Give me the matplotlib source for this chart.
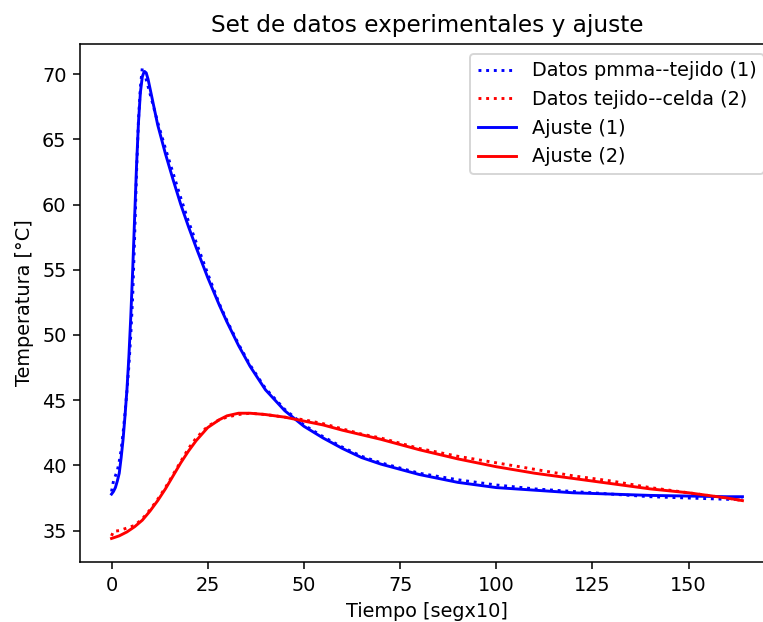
import matplotlib
matplotlib.use("Agg")
import matplotlib.pyplot as plt

# Experimental data 1 (pmma--tejido)
t_data1 = [0, 0.5, 1, 1.5, 2, 2.5, 3, 3.5, 4, 4.5, 5, 5.5, 6, 6.5, 7, 7.5, 8, 8.5, 9, 10, 11, 12, 14, 16, 18,
           20, 22, 25, 28, 30, 33, 36, 40, 45, 50, 55, 60, 65, 70, 75, 80, 90, 100, 110, 120, 130, 140, 150,
           160, 164]
T_data1 = [38.0, 38.8, 39.2, 39.6, 40.3, 41.2, 42.5, 44.0, 45.7, 47.6, 50.0, 53.0, 57.5, 62.5, 66.5, 69.0, 70.5,
           70.2, 69.6, 68.5, 67.4, 66.3, 64.3, 62.4, 60.5, 58.7, 57.1, 54.7, 52.4, 51.1, 49.3, 47.7, 45.9, 44.3,
           43.1, 42.2, 41.4, 40.7, 40.2, 39.8, 39.4, 38.9, 38.5, 38.2, 38.0, 37.8, 37.6, 37.5, 37.4, 37.4]

# Experimental data 2 (tejido--celda)
t_data2 = [0, 0.5, 2, 4, 6, 8, 10, 12, 14, 16, 18, 20, 22, 25, 28, 30, 33, 36, 40, 45, 50, 55, 60, 65, 70, 75,
           80, 90, 100, 110, 120, 130, 140, 150, 160, 164]
T_data2 = [34.6, 34.95, 35.0, 35.2, 35.4, 35.9, 36.6, 37.4, 38.3, 39.3, 40.3, 41.3, 42.1, 43.0, 43.5, 43.7,
           43.9, 44.0, 43.9, 43.7, 43.5, 43.2, 42.8, 42.4, 42.1, 41.7, 41.3, 40.7, 40.2, 39.7, 39.2, 38.8,
           38.3, 37.9, 37.5, 37.3]

# Fit 1
t_fit1 = [0, 0.5, 1, 1.5, 2, 2.5, 3, 3.5, 4, 4.5, 5, 5.5, 6, 6.5, 7, 7.5, 8, 8.5, 9, 9.5, 10, 11, 12, 14, 16,
          18, 20, 22, 25, 28, 30, 33, 36, 40, 45, 50, 55, 60, 65, 70, 75, 80, 90, 100, 110, 120, 130, 140,
          150, 160, 164]
T_fit1 = [37.8, 38.0, 38.3, 38.8, 39.4, 40.6, 42.0, 43.8, 45.8, 48.3, 51.4, 55.0, 59.0, 63.0, 66.3, 68.6, 69.8,
          70.2, 70.1, 69.6, 68.9, 67.5, 66.1, 63.9, 61.9, 60.0, 58.3, 56.7, 54.4, 52.3, 51.0, 49.2, 47.6, 45.8,
          44.2, 43.0, 42.1, 41.3, 40.6, 40.1, 39.7, 39.3, 38.7, 38.3, 38.1, 37.9, 37.8, 37.7, 37.65, 37.6,
          37.6]

# Fit 2
t_fit2 = [0, 2, 4, 6, 8, 10, 12, 14, 16, 18, 20, 22, 25, 28, 30, 33, 36, 40, 45, 50, 55, 60, 65, 70, 75, 80,
          90, 100, 110, 120, 130, 140, 150, 160, 164]
T_fit2 = [34.4, 34.6, 34.9, 35.3, 35.8, 36.5, 37.3, 38.2, 39.2, 40.2, 41.1, 41.9, 42.9, 43.5, 43.8, 44.0,
          44.0, 43.9, 43.7, 43.4, 43.1, 42.7, 42.35, 42.0, 41.6, 41.2, 40.5, 39.9, 39.4, 39.0, 38.6, 38.2,
          37.9, 37.5, 37.3]

DPI = 139
W, H = 763, 622
fig = plt.figure(figsize=(W / DPI, H / DPI), dpi=DPI)
ax = fig.add_axes([80 / W, (H - 562) / H, 694 / W, 518 / H])

ax.plot(t_data1, T_data1, ':', color='blue', label='Datos pmma--tejido (1)')
ax.plot(t_data2, T_data2, ':', color='red', label='Datos tejido--celda (2)')
ax.plot(t_fit1, T_fit1, '-', color='blue', label='Ajuste (1)')
ax.plot(t_fit2, T_fit2, '-', color='red', label='Ajuste (2)')

ax.set_title('Set de datos experimentales y ajuste')
ax.set_xlabel('Tiempo [segx10]')
ax.set_ylabel('Temperatura [°C]')
ax.legend(loc='upper right')
# the right edge of the axes lies outside the cropped canvas in the reference
ax.spines['right'].set_visible(False)

fig.savefig('out.png', dpi=DPI)
